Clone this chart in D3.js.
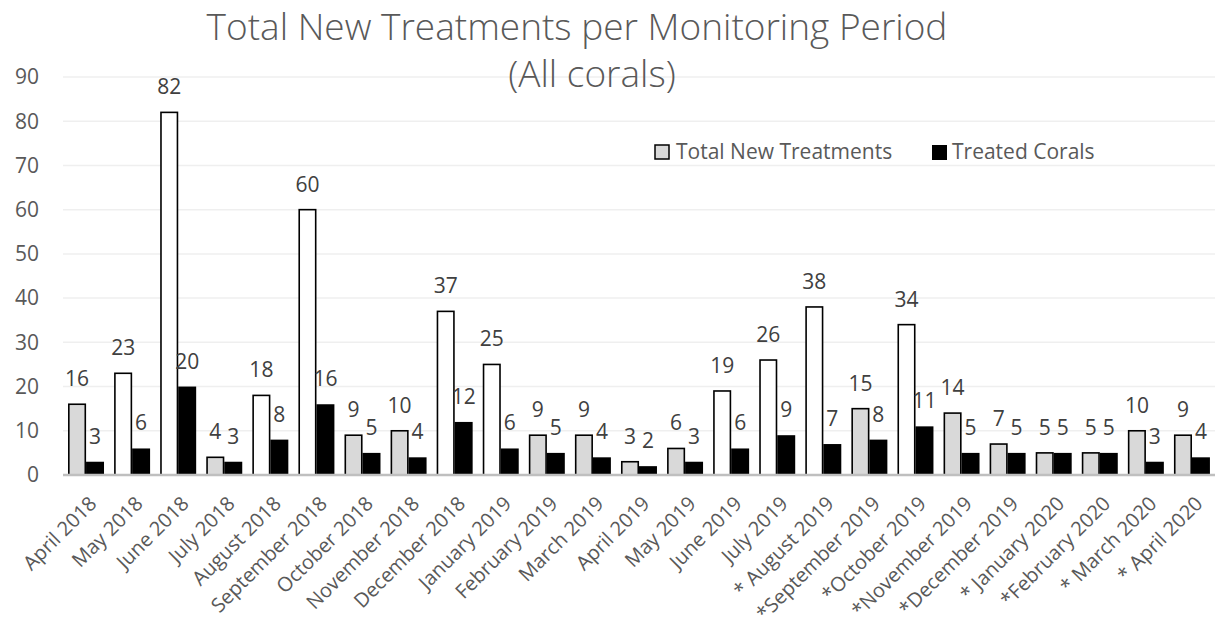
<!DOCTYPE html>
<html>
<head>
<meta charset="utf-8">
<script src="https://cdn.jsdelivr.net/npm/d3@7"></script>
<style>
  body { margin: 0; background: #fff; }
  svg { display: block; }
  text { font-family: "Open Sans", "Noto Sans", sans-serif; fill: #595959; }
</style>
</head>
<body>
<svg></svg>
<script>
var months = ["April 2018", "May 2018", "June 2018", "July 2018", "August 2018", "September 2018",
  "October 2018", "November 2018", "December 2018", "January 2019", "February 2019", "March 2019",
  "April 2019", "May 2019", "June 2019", "July 2019", "* August 2019", "*September 2019",
  "*October 2019", "*November 2019", "*December 2019", "* January 2020", "*February 2020",
  "* March 2020", "* April 2020"];
var totalNew = [16, 23, 82, 4, 18, 60, 9, 10, 37, 25, 9, 9, 3, 6, 19, 26, 38, 15, 34, 14, 7, 5, 5, 10, 9];
var treated = [3, 6, 20, 3, 8, 16, 5, 4, 12, 6, 5, 4, 2, 3, 6, 9, 7, 8, 11, 5, 5, 5, 5, 3, 4];
var yTicks = [0, 10, 20, 30, 40, 50, 60, 70, 80, 90];

var svgWidth = 1218, svgHeight = 631;
var margin = { top: 77, right: 3, bottom: 156, left: 63 };
var width = svgWidth - margin.left - margin.right;
var height = svgHeight - margin.top - margin.bottom;

var svg = d3.select("svg")
    .attr("width", svgWidth)
    .attr("height", svgHeight);

var g = svg.append("g")
    .attr("transform", "translate(" + margin.left + "," + margin.top + ")");

var x = d3.scaleBand()
    .domain(months)
    .range([0, width])
    .paddingInner(0.22)
    .paddingOuter(0.11);

var sub = d3.scaleBand()
    .domain(["total", "treated"])
    .range([0, x.bandwidth()]);

var y = d3.scaleLinear()
    .domain([0, 90])
    .range([height, 0]);

// gridlines
g.append("g")
    .selectAll("line")
    .data(yTicks.slice(1))
    .enter().append("line")
    .attr("x1", 0)
    .attr("x2", width)
    .attr("y1", function(d) { return y(d); })
    .attr("y2", function(d) { return y(d); })
    .attr("stroke", "#efefef")
    .attr("stroke-width", 1.5);

// y labels
g.append("g")
    .selectAll("text")
    .data(yTicks)
    .enter().append("text")
    .attr("x", -24)
    .attr("y", function(d) { return y(d); })
    .attr("dy", "0.35em")
    .attr("text-anchor", "end")
    .style("font-size", "21px")
    .text(function(d) { return d; });

var rows = months.map(function(m, i) {
    return { month: m, total: totalNew[i], treated: treated[i] };
});

var groups = g.selectAll(".grp")
    .data(rows)
    .enter().append("g")
    .attr("transform", function(d) { return "translate(" + x(d.month) + ",0)"; });

groups.append("rect")
    .attr("x", sub("total") + 0.75)
    .attr("width", sub.bandwidth() - 1.5)
    .attr("y", function(d) { return y(d.total); })
    .attr("height", function(d) { return y(0) - y(d.total); })
    .attr("fill", function(d) { return d.total > 16 ? "#ffffff" : "#d9d9d9"; })
    .attr("stroke", "#000")
    .attr("stroke-width", 1.6);

groups.append("rect")
    .attr("x", sub("treated"))
    .attr("width", sub.bandwidth())
    .attr("y", function(d) { return y(d.treated); })
    .attr("height", function(d) { return y(0) - y(d.treated); })
    .attr("fill", "#000");

groups.append("text")
    .attr("x", sub("total") + sub.bandwidth() / 2)
    .attr("y", function(d) { return y(d.total) - 18; })
    .attr("text-anchor", "middle")
    .style("font-size", "21px")
    .style("fill", "#404040")
    .text(function(d) { return d.total; });

groups.append("text")
    .attr("x", sub("treated") + sub.bandwidth() / 2)
    .attr("y", function(d) { return y(d.treated) - 18; })
    .attr("text-anchor", "middle")
    .style("font-size", "21px")
    .style("fill", "#404040")
    .text(function(d) { return d.treated; });

// axis line
g.append("line")
    .attr("x1", 0)
    .attr("x2", width)
    .attr("y1", y(0))
    .attr("y2", y(0))
    .attr("stroke", "#bfbfbf")
    .attr("stroke-width", 2.5);

// x labels
g.append("g")
    .selectAll("text")
    .data(months)
    .enter().append("text")
    .attr("transform", function(d) {
        return "translate(" + (x(d) + x.bandwidth() / 2 + 2) + "," + (y(0) + 20) + ") rotate(-45)";
    })
    .attr("text-anchor", "end")
    .attr("dy", "0.7em")
    .style("font-size", "20px")
    .text(function(d) { return d; });

// title
var title = svg.append("text")
    .attr("text-anchor", "middle")
    .style("font-size", "37px")
    .style("font-weight", 300);
title.append("tspan").attr("x", 577).attr("y", 40).text("Total New Treatments per Monitoring Period");
title.append("tspan").attr("x", 592).attr("y", 87).text("(All corals)");

// legend
var legend = svg.append("g").attr("transform", "translate(655,145)");
legend.append("rect")
    .attr("width", 14).attr("height", 14)
    .attr("fill", "#d9d9d9").attr("stroke", "#000").attr("stroke-width", 1.5);
legend.append("text")
    .attr("x", 21).attr("y", 7).attr("dy", "0.35em")
    .style("font-size", "21px")
    .text("Total New Treatments");
legend.append("rect")
    .attr("x", 277).attr("width", 15).attr("height", 15)
    .attr("fill", "#000");
legend.append("text")
    .attr("x", 297).attr("y", 7).attr("dy", "0.35em")
    .style("font-size", "21px")
    .text("Treated Corals");
</script>
</body>
</html>
